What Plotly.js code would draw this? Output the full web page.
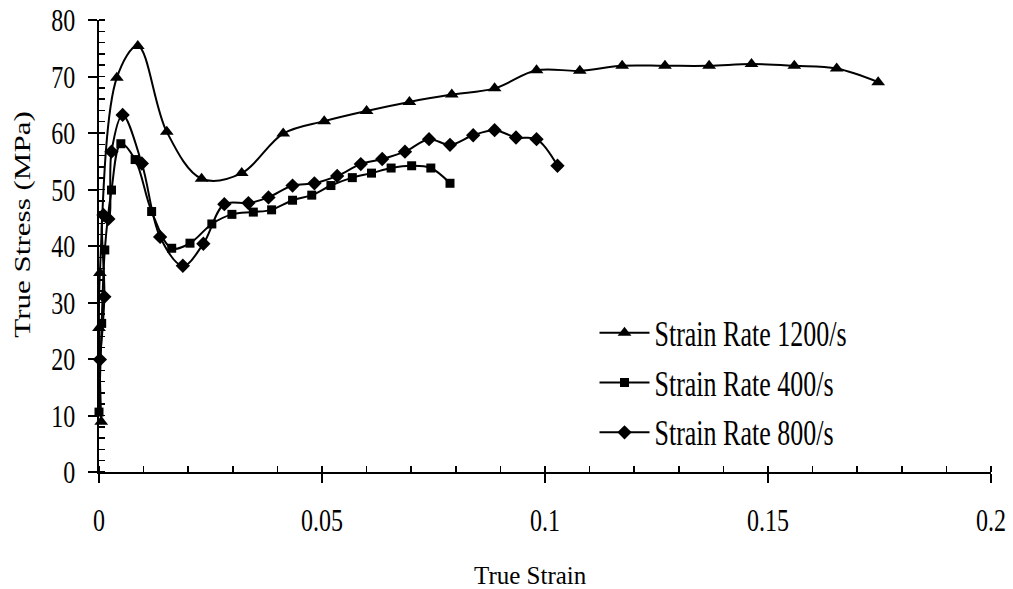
<!DOCTYPE html>
<html>
<head>
<meta charset="utf-8">
<script src="https://cdn.plot.ly/plotly-3.0.1.min.js"></script>
<style>html,body{margin:0;padding:0;background:#fff;}#chart{width:1013px;height:589px;}</style>
</head>
<body>
<div id="chart"></div>
<script>
// Strain Rate 1200/s
const strain1200 = [0.0005, 0.0000, 0.0002, 0.0040, 0.0087, 0.0152, 0.0230, 0.0320, 0.0413, 0.0505, 0.0600, 0.0696, 0.0791, 0.0887, 0.0981, 0.1078, 0.1173, 0.1269, 0.1368, 0.1463, 0.1559, 0.1654, 0.1747];
const stress1200 = [8.9, 25.5, 35.2, 69.8, 75.4, 60.2, 51.9, 52.9, 59.9, 62.1, 63.9, 65.5, 66.8, 67.9, 71.1, 71.0, 71.9, 71.9, 71.9, 72.2, 71.9, 71.4, 69.0];
// Strain Rate 400/s
const strain400 = [0.0000, 0.0006, 0.0013, 0.0028, 0.0049, 0.0081, 0.0118, 0.0163, 0.0204, 0.0253, 0.0298, 0.0346, 0.0387, 0.0434, 0.0477, 0.0520, 0.0568, 0.0611, 0.0655, 0.0701, 0.0744, 0.0787];
const stress400 = [10.6, 26.3, 39.3, 49.9, 58.1, 55.3, 46.1, 39.6, 40.5, 43.9, 45.6, 46.0, 46.4, 48.1, 49.0, 50.7, 52.1, 52.9, 53.8, 54.2, 53.8, 51.1];
// Strain Rate 800/s
const strain800 = [0.0002, 0.0012, 0.0010, 0.0021, 0.0028, 0.0053, 0.0096, 0.0137, 0.0188, 0.0234, 0.0281, 0.0335, 0.0380, 0.0434, 0.0483, 0.0534, 0.0587, 0.0635, 0.0686, 0.0740, 0.0787, 0.0839, 0.0887, 0.0935, 0.0981, 0.1028];
const stress800 = [19.9, 31.0, 45.5, 44.8, 56.7, 63.2, 54.6, 41.6, 36.5, 40.4, 47.4, 47.6, 48.6, 50.7, 51.1, 52.4, 54.5, 55.4, 56.7, 58.9, 57.9, 59.6, 60.5, 59.2, 58.9, 54.2];

const seriesNames = ["Strain Rate 1200/s", "Strain Rate 400/s", "Strain Rate 800/s"];
const xTitle = "True Strain";
const yTitle = "True Stress (MPa)";

const FONT = "Liberation Serif, Times New Roman, serif";
const STRETCH = 1.35;

function mk(x, y, name, symbol, size, grp) {
  return {
    x: x, y: y, name: name, type: "scatter", mode: "lines+markers",
    line: {color: "#000", width: 2, shape: "spline", smoothing: 1},
    marker: {symbol: symbol, size: size, color: "#000"},
    cliponaxis: false, legendgroup: grp
  };
}

const data = [
  mk(strain1200, stress1200, seriesNames[0], "triangle-up", 12, "a"),
  mk(strain400, stress400, seriesNames[1], "square", 9, "b"),
  mk(strain800, stress800, seriesNames[2], "diamond", 11, "c")
];

const layout = {
  width: 1013, height: 589,
  margin: {l: 99, r: 22, t: 20, b: 117},
  paper_bgcolor: "#fff", plot_bgcolor: "#fff",
  font: {family: FONT, size: 24, color: "#000"},
  showlegend: true,
  legend: {
    x: 0.5555, y: 0.36, xanchor: "left", yanchor: "top",
    bgcolor: "rgba(0,0,0,0)", borderwidth: 0,
    itemwidth: 50,
    font: {family: FONT, size: 26, color: "#000"},
    traceorder: "grouped", tracegroupgap: 13
  },
  xaxis: {
    range: [0, 0.2], showgrid: false, zeroline: false,
    showline: true, linecolor: "#000", linewidth: 2,
    tickmode: "linear", tick0: 0, dtick: 0.05,
    ticks: "outside", ticklen: 9, tickwidth: 2, tickcolor: "#000",
    ticklabelstandoff: 16,
    tickfont: {family: FONT, size: 24, color: "#000"},
    minor: {dtick: 0.01, tick0: 0, ticks: "inside", ticklen: 6, tickwidth: 1.5, tickcolor: "#000"}
  },
  yaxis: {
    range: [0, 80], showgrid: false, zeroline: false,
    showline: true, linecolor: "#000", linewidth: 2,
    tickmode: "linear", tick0: 0, dtick: 10,
    ticks: "outside", ticklen: 9, tickwidth: 2, tickcolor: "#000",
    ticklabelstandoff: 8,
    tickfont: {family: FONT, size: 24, color: "#000"},
    minor: {dtick: 2, tick0: 0, ticks: "inside", ticklen: 6, tickwidth: 1.5, tickcolor: "#000"}
  },
  xaxis2: {
    overlaying: "x", anchor: "y", side: "bottom", range: [0, 0.2],
    showgrid: false, zeroline: false, showline: false, showticklabels: false,
    tickmode: "linear", tick0: 0, dtick: 0.05, ticks: "inside", ticklen: 5, tickwidth: 2, tickcolor: "#000"
  },
  yaxis2: {
    overlaying: "y", anchor: "x", side: "left", range: [0, 80],
    showgrid: false, zeroline: false, showline: false, showticklabels: false,
    tickmode: "linear", tick0: 0, dtick: 10, ticks: "inside", ticklen: 5, tickwidth: 2, tickcolor: "#000"
  },
  annotations: [
    {text: xTitle, xref: "paper", yref: "paper", x: 0.484, y: -0.228, xanchor: "center", yanchor: "middle",
     showarrow: false, font: {family: FONT, size: 25, color: "#000"}},
    {text: yTitle, xref: "paper", yref: "paper", x: -0.0858, y: 0.549, xanchor: "center", yanchor: "middle",
     textangle: -90, showarrow: false, font: {family: FONT, size: 23, color: "#000"}}
  ]
};

// The reference's lettering is drawn taller than wide; stretch tick labels, legend text and the y title on screen about their centres.
function stretchText(gd) {
  const texts = gd.querySelectorAll(".xtick text, .ytick text, .legendtext, .annotation-text");
  texts.forEach(function (t) {
    if (t.textContent === xTitle) return;
    const bb = t.getBBox();
    const cx = bb.x + bb.width / 2, cy = bb.y + bb.height / 2;
    const rotated = t.textContent === yTitle;
    const sx = rotated ? STRETCH : 1, sy = rotated ? 1 : STRETCH;
    const old = t.getAttribute("transform") || "";
    t.setAttribute("transform", old + " translate(" + cx + "," + cy + ") scale(" + sx + "," + sy + ") translate(" + (-cx) + "," + (-cy) + ")");
  });
}

Plotly.newPlot("chart", data, layout, {displayModeBar: false, staticPlot: true}).then(stretchText);
</script>
</body>
</html>
